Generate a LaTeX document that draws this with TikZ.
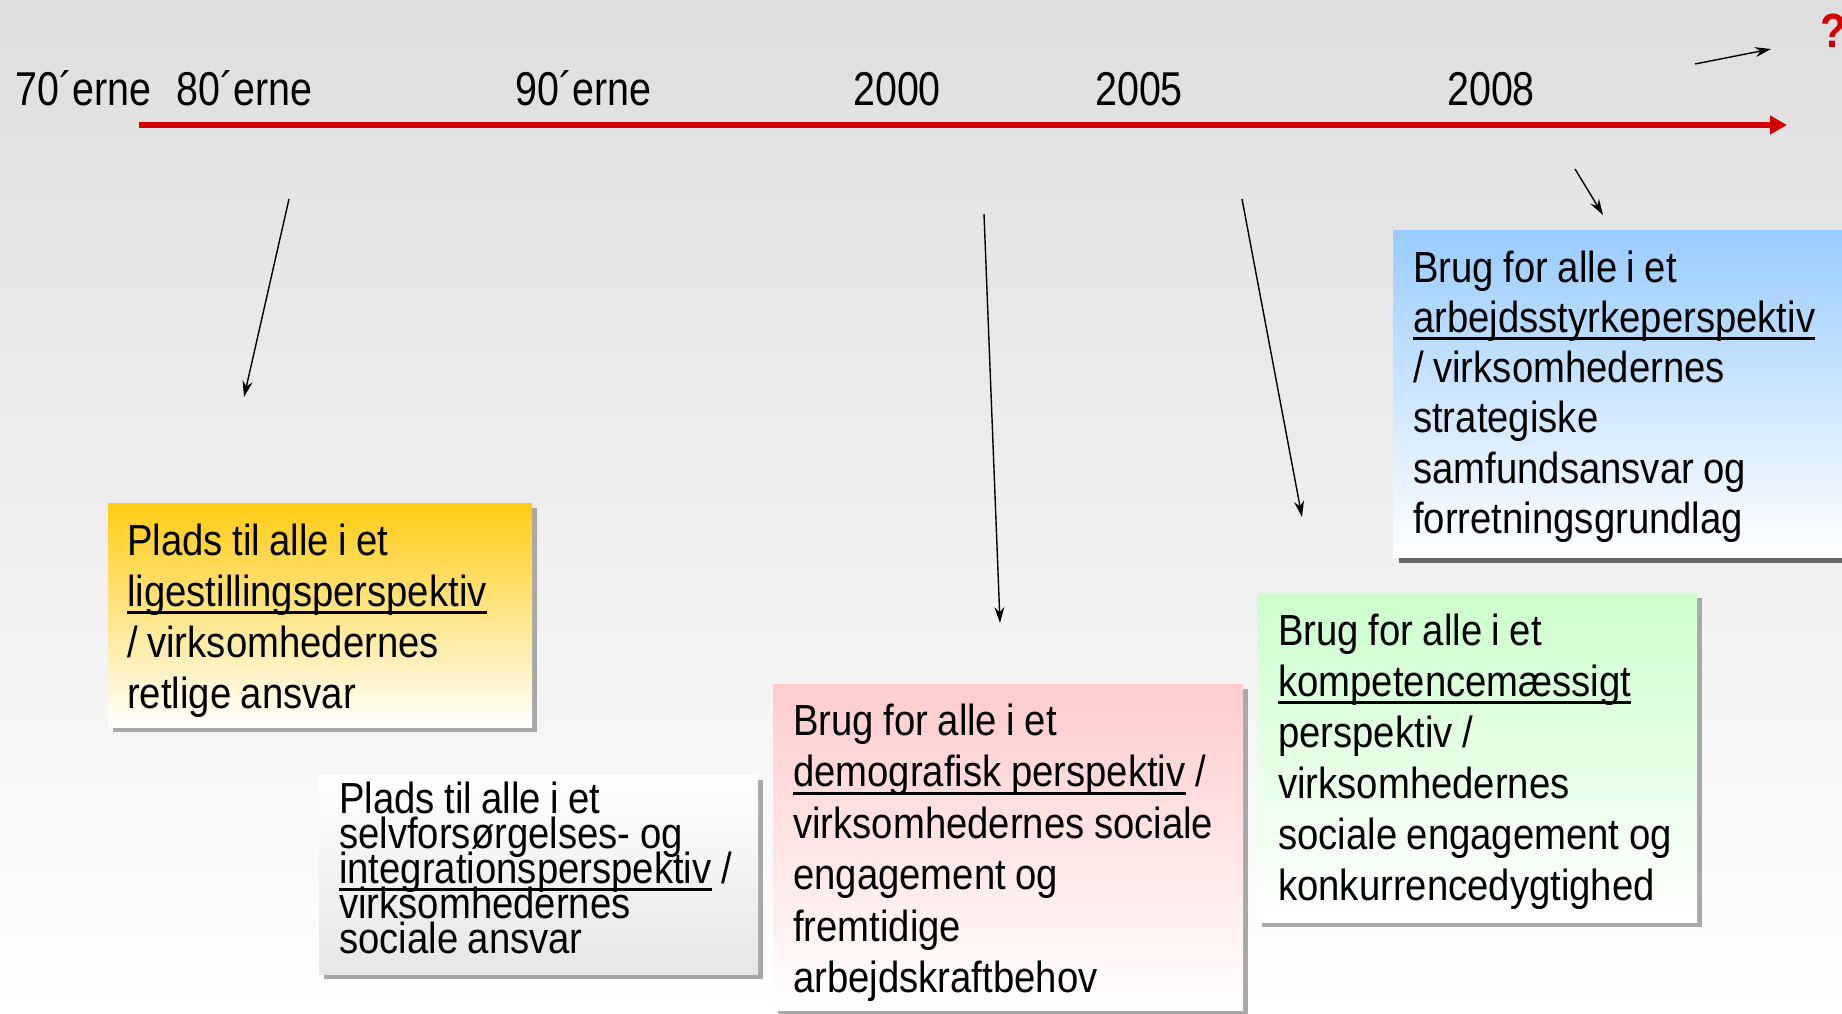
\documentclass[tikz,border=0pt]{standalone}
\usepackage{fontspec}
\setmainfont[FakeStretch=0.88]{Liberation Sans}
\newfontfamily\labfont[FakeStretch=0.83]{Liberation Sans}
\usetikzlibrary{arrows.meta,shadows}
\definecolor{tlred}{RGB}{210,0,0}
\definecolor{bgtop}{RGB}{222,222,222}
\definecolor{yellowtop}{RGB}{255,204,20}
\definecolor{pinktop}{RGB}{255,204,204}
\definecolor{greentop}{RGB}{204,255,204}
\definecolor{bluetop}{RGB}{153,204,255}
\definecolor{greybot}{RGB}{230,230,230}
\definecolor{shadowgrey}{RGB}{168,168,168}
\definecolor{darkshadow}{RGB}{102,102,102}
\newsavebox\ulbox
\newcommand\ulword[1]{\leavevmode\sbox\ulbox{#1}\rlap{\rule[-8pt]{\wd\ulbox}{3pt}}\usebox\ulbox}
\newcommand\firststrut{\spaceskip=9.5pt plus 2pt minus 2pt\relax\xspaceskip=9.5pt\relax\leavevmode\rule{0pt}{35pt}}
\newcommand\cardfont[1]{\fontsize{43.5}{#1}\selectfont\lineskiplimit-1000pt\relax\lineskip0pt\relax}
\begin{document}
\begin{tikzpicture}[x=1pt,y=-1pt,
  card/.style={anchor=north west, inner sep=0pt, draw=none,
    drop shadow={shadow xshift=5pt, shadow yshift=-5pt, fill=shadowgrey, opacity=1}},
  bluecard/.style={anchor=north west, inner sep=0pt, draw=none,
    drop shadow={shadow xshift=6pt, shadow yshift=-6pt, fill=darkshadow, opacity=1}},
  cardtext/.style={anchor=north west, inner sep=0pt, text width=600pt, align=left,
    font={\cardfont{#1}}},
  yearlab/.style={anchor=base west, inner sep=0pt, font={\labfont\fontsize{47.5}{50}\selectfont}},
  pointer/.style={black, line width=1.4pt, -{Stealth[length=16pt,width=10pt]}},
  timeline/.style={tlred, line width=6pt, -{Triangle[length=17pt,width=18pt]}}
]
\clip (0,0) rectangle (1842,1013);
\shade[top color=bgtop, bottom color=white] (0,0) rectangle (1842,1013);

% timeline
\coordinate (tl0) at (139,125);
\coordinate (tl1) at (1787,125);
\draw[timeline] (tl0) -- (tl1);

% year labels
\node[yearlab] (l70) at (15,105) {70´erne};
\node[yearlab] (l80) at (176,105) {80´erne};
\node[yearlab] (l90) at (515,105) {90´erne};
\node[yearlab] (l00) at (853,105) {2000};
\node[yearlab] (l05) at (1095,105) {2005};
\node[yearlab] (l08) at (1447,105) {2008};

% question mark
\node[anchor=base west, inner sep=0pt, text=tlred, font={\fontsize{48}{50}\selectfont\bfseries}] (q) at (1820,47) {?};

% boxes
\node[card, top color=yellowtop, bottom color=white, minimum width=424pt, minimum height=224pt] (yb) at (108,503) {};
\node[card, top color=white, bottom color=greybot, minimum width=439pt, minimum height=199pt] (gb) at (319,775) {};
\node[card, top color=pinktop, bottom color=white, minimum width=470pt, minimum height=326pt] (pb) at (773,684) {};
\node[card, top color=greentop, bottom color=white, minimum width=440pt, minimum height=329pt] (grb) at (1257,593) {};
\node[bluecard, top color=bluetop, bottom color=white, minimum width=480pt, minimum height=327pt] (bb) at (1393,230) {};

% texts
\node[cardtext=51pt] (yt) at (127,520) {\firststrut Plads til alle i et\\\ulword{ligestillingsperspektiv}\\/ virksomhedernes\\retlige ansvar};
\node[cardtext=35pt] (gt) at (339,778) {\firststrut Plads til alle i et\\selvforsørgelses- og\\\ulword{integrationsperspektiv} /\\virksomhedernes\\sociale ansvar};
\node[cardtext=51.5pt] (pt) at (793,700) {\firststrut Brug for alle i et\\\ulword{demografisk perspektiv} /\\virksomhedernes sociale\\engagement og\\fremtidige\\arbejdskraftbehov};
\node[cardtext=51pt] (grt) at (1278,610) {\firststrut Brug for alle i et\\\ulword{kompetencemæssigt}\\perspektiv /\\virksomhedernes\\sociale engagement og\\konkurrencedygtighed};
\node[cardtext=50.2pt] (bt) at (1413,247) {\firststrut Brug for alle i et\\\ulword{arbejdsstyrkeperspektiv}\\/ virksomhedernes\\strategiske\\samfundsansvar og\\forretningsgrundlag};

% pointer arrows
\coordinate (a1s) at (289,199);  \coordinate (a1e) at (244,397);
\coordinate (a2s) at (984,214);  \coordinate (a2e) at (1000,623);
\coordinate (a3s) at (1242,199); \coordinate (a3e) at (1302,517);
\coordinate (a4s) at (1575,169); \coordinate (a4e) at (1603,215);
\coordinate (a5s) at (1695,64);  \coordinate (a5e) at (1771,49);
\draw[pointer] (a1s) -- (a1e);
\draw[pointer] (a2s) -- (a2e);
\draw[pointer] (a3s) -- (a3e);
\draw[pointer] (a4s) -- (a4e);
\draw[pointer] (a5s) -- (a5e);
\end{tikzpicture}
\end{document}
